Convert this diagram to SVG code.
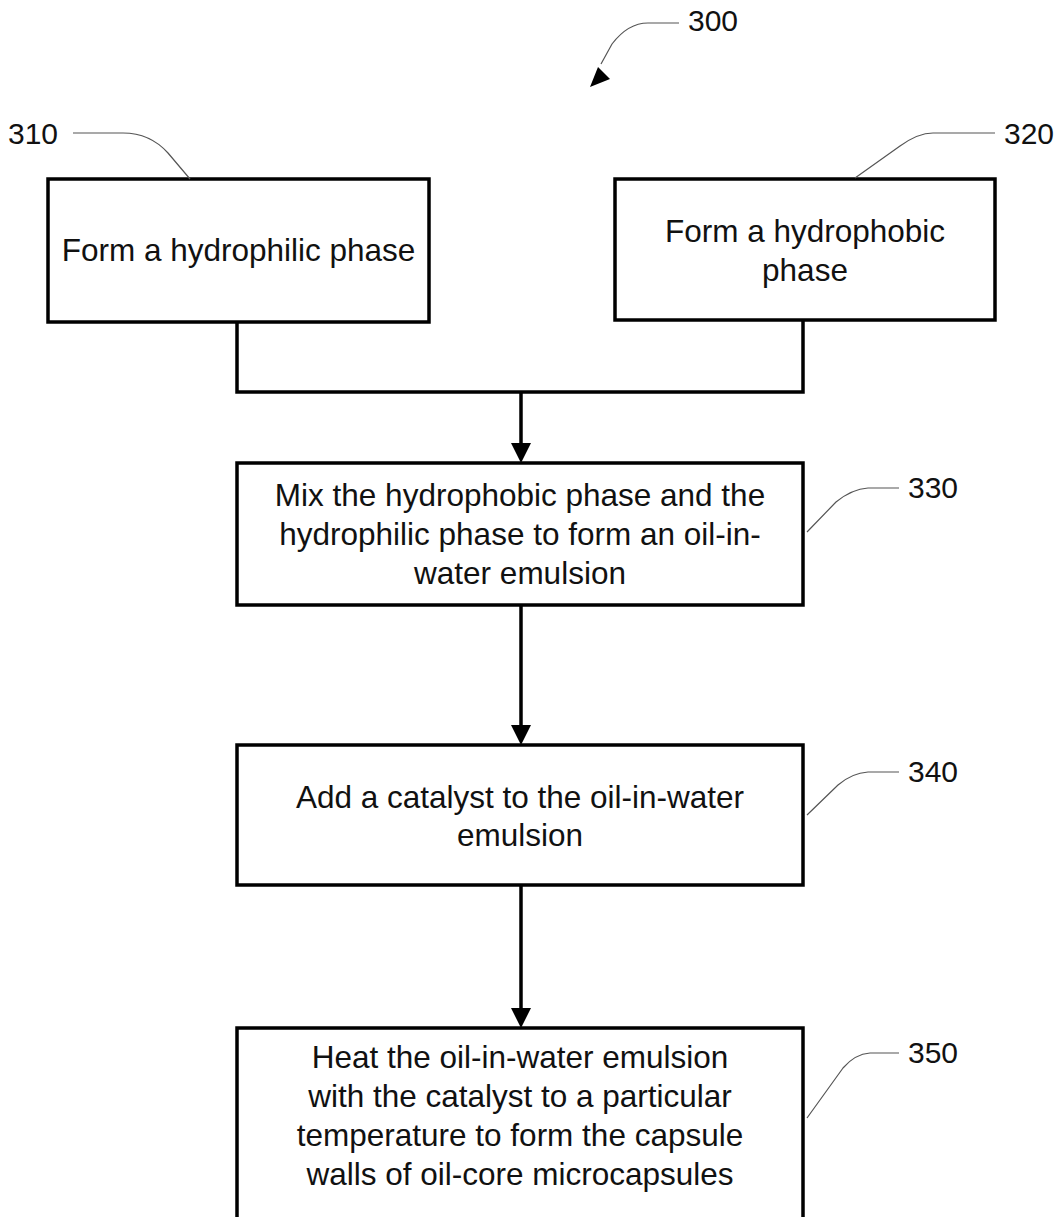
<svg xmlns="http://www.w3.org/2000/svg" width="1062" height="1217" viewBox="0 0 1062 1217">
<style>
.box{fill:#fff;stroke:#000;stroke-width:3.5}
.t{font-family:"Liberation Sans",Arial,sans-serif;font-size:31.5px;fill:#111;text-anchor:middle}
.lbl{font-family:"Liberation Sans",Arial,sans-serif;font-size:30px;fill:#111}
.lead{fill:none;stroke:#555;stroke-width:1.2}
.conn{fill:none;stroke:#000;stroke-width:3.5}
</style>
<rect width="1062" height="1217" fill="#fff"/>
<g id="label300">
<text class="lbl" x="688" y="31">300</text>
<path class="lead" d="M679,23 L648,23 Q628,23 612,44 L601,64"/>
<path d="M590,87 L610,79 L598,67 Z" fill="#000"/>
</g>
<g id="connectors">
<path class="conn" d="M237,322 L237,392 L803,392 L803,320"/>
<path class="conn" d="M521,392 L521,443"/>
<path d="M511,443 L531,443 L521,463 Z" fill="#000"/>
<path class="conn" d="M521,605 L521,725"/>
<path d="M511,725 L531,725 L521,745 Z" fill="#000"/>
<path class="conn" d="M521,885 L521,1008"/>
<path d="M511,1008 L531,1008 L521,1028 Z" fill="#000"/>
</g>
<g id="n310">
<rect class="box" x="48" y="179" width="381" height="143"/>
<text class="t" x="238.5" y="261">Form a hydrophilic phase</text>
<text class="lbl" x="8" y="144">310</text>
<path class="lead" d="M73,133 L123,133 Q150,133 168,153 L190,179"/>
</g>
<g id="n320">
<rect class="box" x="615" y="179" width="380" height="141"/>
<text class="t" x="805" y="242">Form a hydrophobic</text>
<text class="t" x="805" y="281">phase</text>
<text class="lbl" x="1004" y="144">320</text>
<path class="lead" d="M995,133 L933,133 Q918,133 900,146 L855,178"/>
</g>
<g id="n330">
<rect class="box" x="237" y="463" width="566" height="142"/>
<text class="t" x="520" y="506">Mix the hydrophobic phase and the</text>
<text class="t" x="520" y="545">hydrophilic phase to form an oil-in-</text>
<text class="t" x="520" y="584">water emulsion</text>
<text class="lbl" x="908" y="498">330</text>
<path class="lead" d="M899,488 L868,488 Q852,489 836,502 L807,532"/>
</g>
<g id="n340">
<rect class="box" x="237" y="745" width="566" height="140"/>
<text class="t" x="520" y="808">Add a catalyst to the oil-in-water</text>
<text class="t" x="520" y="846">emulsion</text>
<text class="lbl" x="908" y="782">340</text>
<path class="lead" d="M899,772 L868,772 Q852,773 838,785 L807,815"/>
</g>
<g id="n350">
<rect class="box" x="237" y="1028" width="566" height="220"/>
<text class="t" x="520" y="1068">Heat the oil-in-water emulsion</text>
<text class="t" x="520" y="1107">with the catalyst to a particular</text>
<text class="t" x="520" y="1146">temperature to form the capsule</text>
<text class="t" x="520" y="1185">walls of oil-core microcapsules</text>
<text class="lbl" x="908" y="1063">350</text>
<path class="lead" d="M899,1053 L870,1053 Q855,1054 843,1068 L807,1118"/>
</g>
</svg>
